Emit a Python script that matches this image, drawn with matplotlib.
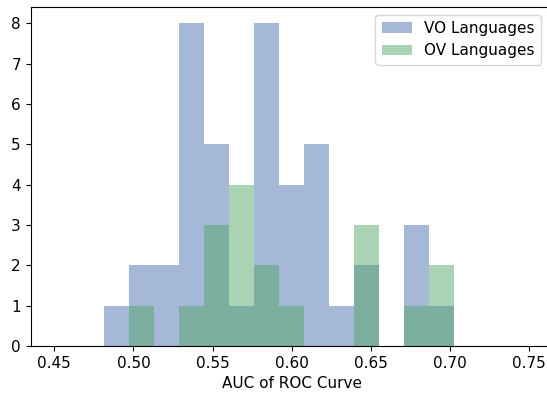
import numpy as np
import matplotlib
matplotlib.use("Agg")
from matplotlib import pyplot as plt

# histogram bins shared by both groups
bin_lo, bin_hi, n_edges = 0.45, 0.75, 20

# counts per bin (19 bins)
vo_counts = [0, 0, 1, 2, 2, 8, 5, 1, 8, 4, 5, 1, 2, 0, 3, 1, 0, 0, 0]
ov_counts = [0, 0, 0, 1, 0, 1, 3, 4, 2, 1, 0, 0, 3, 0, 1, 2, 0, 0, 0]

labels = ["VO Languages", "OV Languages"]
colors = ["#4C72B0", "#55A868"]

plt.rcParams["font.size"] = 11

edges = np.linspace(bin_lo, bin_hi, n_edges)
centers = (edges[:-1] + edges[1:]) / 2

fig = plt.figure(figsize=(5.47, 3.96), dpi=100)
# axes run a bit past the right edge of the image, like the reference
ax = fig.add_axes([30.6 / 547, 50 / 396, 522 / 547, 339 / 396])

ax.hist(centers, bins=edges, weights=vo_counts, alpha=0.5, color=colors[0], label=labels[0])
ax.hist(centers, bins=edges, weights=ov_counts, alpha=0.5, color=colors[1], label=labels[1])

ax.set_xlabel("AUC of ROC Curve")
ax.legend(loc="upper right", bbox_to_anchor=(1 - 4 / 522, 1.0))

fig.savefig("out.png", dpi=100)
